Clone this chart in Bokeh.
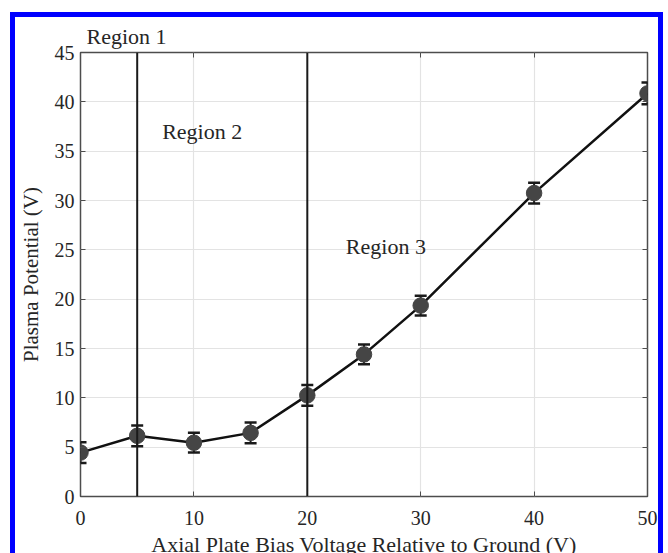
from bokeh.plotting import figure
from bokeh.models import LinearAxis, FixedTicker, Label, Span, Whisker, ColumnDataSource
from bokeh.embed import file_html
from bokeh.resources import INLINE

# Data
bias = [0, 5, 10, 15, 20, 25, 30, 40, 50]
potential = [4.45, 6.15, 5.45, 6.45, 10.25, 14.4, 19.35, 30.75, 40.85]
err = [1.05, 1.05, 1.0, 1.05, 1.05, 1.0, 1.0, 1.05, 1.1]
x_ticks = [0, 10, 20, 30, 40, 50]
y_ticks = [0, 5, 10, 15, 20, 25, 30, 35, 40, 45]
region_bounds = [5, 20]
region_title = "Region 1"
region_names = ["Region 2", "Region 3"]
region_x = [7.2, 23.4]
region_y = [37.0, 25.3]

FONT = "Liberation Serif"
TXT = "#262626"

src = ColumnDataSource(dict(
    x=bias, y=potential,
    lo=[v - e for v, e in zip(potential, err)],
    hi=[v + e for v, e in zip(potential, err)],
))

p = figure(width=643, height=542, x_range=(0, 50), y_range=(0, 45),
           output_backend="svg", toolbar_location=None,
           min_border_left=64, min_border_right=11,
           min_border_top=34, min_border_bottom=56,
           background_fill_color="white", border_fill_color="white")
p.styles = {"outline": "5px solid #0000ff", "margin-left": "15px", "margin-top": "17px"}

p.title.text = region_title
p.title.text_font = FONT
p.title.text_font_size = "22px"
p.title.text_font_style = "normal"
p.title.text_color = TXT
p.title.text_line_height = 0.8
p.title.align = "left"
p.title.offset = 6
p.title.standoff = 8

p.outline_line_color = "#4d4d4d"
p.outline_line_width = 1.5

for ax in [p.xaxis[0], p.yaxis[0]]:
    ax.axis_line_color = None
    ax.major_tick_in = 5
    ax.major_tick_out = 0
    ax.minor_tick_line_color = None
    ax.major_tick_line_color = "#4d4d4d"
    ax.major_label_text_font = FONT
    ax.major_label_text_font_size = "20px"
    ax.major_label_text_color = TXT
    ax.axis_label_text_font = FONT
    ax.axis_label_text_font_style = "normal"
    ax.axis_label_text_color = TXT

p.xaxis[0].ticker = FixedTicker(ticks=x_ticks)
p.yaxis[0].ticker = FixedTicker(ticks=y_ticks)
p.xaxis[0].axis_label = "Axial Plate Bias Voltage Relative to Ground (V)"
p.yaxis[0].axis_label = "Plasma Potential (V)"
p.xaxis[0].axis_label_text_font_size = "22px"
p.yaxis[0].axis_label_text_font_size = "21px"
p.xaxis[0].major_label_standoff = 14
p.yaxis[0].major_label_standoff = 6
p.xaxis[0].axis_label_standoff = 4
p.yaxis[0].axis_label_standoff = 9

for loc, tick in [("above", x_ticks), ("right", y_ticks)]:
    a = LinearAxis(ticker=FixedTicker(ticks=tick))
    a.axis_line_color = None
    a.major_tick_in = 5
    a.major_tick_out = 0
    a.minor_tick_line_color = None
    a.major_tick_line_color = "#4d4d4d"
    a.major_label_text_font_size = "0px"
    a.major_label_standoff = 0
    a.major_label_text_color = None
    p.add_layout(a, loc)

p.xgrid.ticker = FixedTicker(ticks=x_ticks)
p.ygrid.ticker = FixedTicker(ticks=y_ticks)
p.xgrid.grid_line_color = "#e3e3e3"
p.ygrid.grid_line_color = "#e3e3e3"
p.xgrid.grid_line_width = 1.2
p.ygrid.grid_line_width = 1.2

for b in region_bounds:
    p.add_layout(Span(location=b, dimension="height", line_color="#1a1a1a", line_width=2))

p.line("x", "y", source=src, line_color="#111111", line_width=2.5)
w = Whisker(base="x", lower="lo", upper="hi", source=src,
            line_color="#1a1a1a", line_width=2)
w.upper_head.size = 12
w.lower_head.size = 12
w.upper_head.line_width = 2.5
w.lower_head.line_width = 2.5
w.upper_head.line_color = "#1a1a1a"
w.lower_head.line_color = "#1a1a1a"
p.add_layout(w)
p.scatter("x", "y", source=src, size=15.5, fill_color="#454545", line_color="#454545")

for name, rx, ry in zip(region_names, region_x, region_y):
    p.add_layout(Label(x=rx, y=ry, text=name, text_font=FONT, text_font_size="22px",
                       text_color=TXT, text_baseline="alphabetic"))

open("out.html", "w").write(file_html(p, INLINE))
